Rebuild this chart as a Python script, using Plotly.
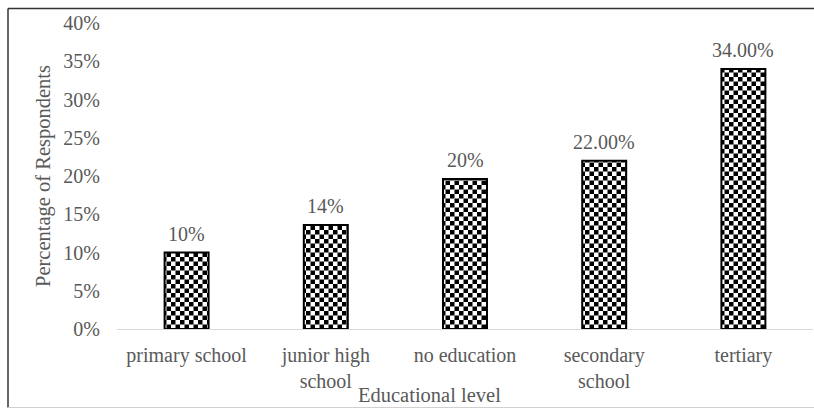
import plotly.graph_objects as go

# Survey data: share of respondents by educational level
categories = ["primary school", "junior high<br>school", "no education", "secondary<br>school", "tertiary"]
shares = [0.10, 0.136, 0.196, 0.22, 0.34]
label_decimals = [0, 0, 0, 2, 2]
y_ticks = [0, 0.05, 0.10, 0.15, 0.20, 0.25, 0.30, 0.35, 0.40]

W, H = 814, 410
L, R, T, B = 117, 1, 22.5, 80.7
PW, PH = W - L - R, H - T - B

FONT = "Liberation Serif, Times New Roman, serif"
GREY = "#595959"


def px_x(px):
    return (px - L) / PW


def px_y(py):
    return (H - B - py) / PH


fig = go.Figure(
    go.Bar(
        x=categories,
        y=shares,
        marker=dict(
            color="white",
            line=dict(color="black", width=2),
            pattern=dict(shape="+", fgcolor="black", bgcolor="white", size=9, solidity=0.5),
        ),
        hoverinfo="skip",
    )
)

annotations = []
for cat, val, dec in zip(categories, shares, label_decimals):
    annotations.append(
        dict(
            x=cat, y=val, xref="x", yref="y",
            text=f"{val * 100:.{dec}f}%",
            showarrow=False, yanchor="middle", yshift=19,
            font=dict(family=FONT, size=20, color=GREY),
        )
    )

annotations.append(
    dict(
        x=px_x(43), y=0.5, xref="paper", yref="paper",
        text="Percentage of Respondents", textangle=-90,
        showarrow=False, xanchor="center", yanchor="middle",
        font=dict(family=FONT, size=20.5, color=GREY),
    )
)
annotations.append(
    dict(
        x=px_x(429), y=px_y(395), xref="paper", yref="paper",
        text="Educational level",
        showarrow=False, xanchor="center", yanchor="middle",
        font=dict(family=FONT, size=20.5, color=GREY),
    )
)

# Outer chart frame
shapes = [
    dict(type="line", xref="paper", yref="paper", x0=px_x(8), x1=px_x(820), y0=px_y(8), y1=px_y(8),
         line=dict(color="#333333", width=1.5)),
    dict(type="line", xref="paper", yref="paper", x0=px_x(8), x1=px_x(8), y0=px_y(8), y1=px_y(408),
         line=dict(color="#333333", width=1.5)),
    dict(type="line", xref="paper", yref="paper", x0=px_x(8), x1=px_x(820), y0=px_y(408), y1=px_y(408),
         line=dict(color="#d0d0d0", width=1.2)),
]

fig.update_layout(
    width=W, height=H,
    margin=dict(l=L, r=R, t=T, b=B),
    paper_bgcolor="white", plot_bgcolor="white",
    bargap=0.684,
    showlegend=False,
    annotations=annotations,
    shapes=shapes,
    font=dict(family=FONT, size=20, color=GREY),
)
fig.update_xaxes(
    showline=True, linecolor="#d9d9d9", linewidth=1.3,
    showgrid=False, ticks="", ticklabelstandoff=8,
    tickfont=dict(family=FONT, size=20, color=GREY),
)
fig.update_yaxes(
    range=[0, 0.40], tickvals=y_ticks, tickformat=".0%",
    showline=False, showgrid=False, zeroline=False, ticks="",
    ticklabelstandoff=16,
    tickfont=dict(family=FONT, size=20, color=GREY),
)

# Replace the bar fill with a true black/white checkerboard pattern
checker_js = """
var gd = document.getElementById('{plot_id}');
var NS = 'http://www.w3.org/2000/svg';
var svg = gd.querySelector('svg.main-svg');
var defs = svg.querySelector('defs');
if (!defs) { defs = document.createElementNS(NS, 'defs'); svg.insertBefore(defs, svg.firstChild); }
var cell = 4.5;
var pat = document.createElementNS(NS, 'pattern');
pat.setAttribute('id', 'checkerfill');
pat.setAttribute('patternUnits', 'userSpaceOnUse');
pat.setAttribute('width', 2 * cell);
pat.setAttribute('height', 2 * cell);
var cells = [[0, 0, 2 * cell, 2 * cell, 'white'], [0, 0, cell, cell, 'black'], [cell, cell, cell, cell, 'black']];
cells.forEach(function (c) {
  var r = document.createElementNS(NS, 'rect');
  r.setAttribute('x', c[0]); r.setAttribute('y', c[1]);
  r.setAttribute('width', c[2]); r.setAttribute('height', c[3]);
  r.setAttribute('fill', c[4]);
  pat.appendChild(r);
});
defs.appendChild(pat);
gd.querySelectorAll('.barlayer .point path').forEach(function (p) {
  p.style.fill = 'url(#checkerfill)';
  p.style.fillOpacity = 1;
});
"""

fig.write_html("out.html", post_script=checker_js)
